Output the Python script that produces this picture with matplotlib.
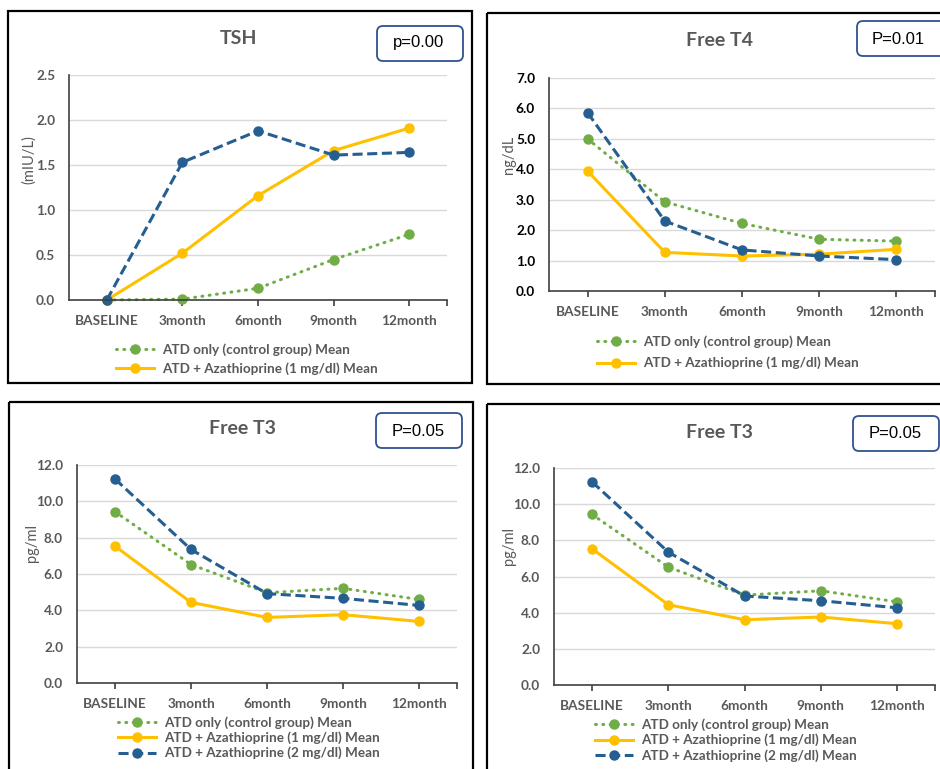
import numpy as np
import matplotlib
matplotlib.use('Agg')
import matplotlib.pyplot as plt
from matplotlib.patches import Rectangle, FancyBboxPatch

plt.rcParams['font.family'] = ['Lato', 'DejaVu Sans']

W, H = 940, 769

# data
months = ['BASELINE', '3month', '6month', '9month', '12month']
series_names = ['ATD only (control group) Mean',
                'ATD + Azathioprine (1 mg/dl) Mean',
                'ATD + Azathioprine (2 mg/dl) Mean']

tsh_control = [0.0, 0.01, 0.13, 0.45, 0.73]
tsh_aza1 = [0.0, 0.52, 1.16, 1.66, 1.91]
tsh_aza2 = [0.0, 1.53, 1.88, 1.61, 1.64]

ft4_control = [5.00, 2.93, 2.22, 1.70, 1.64]
ft4_aza1 = [3.94, 1.27, 1.15, 1.21, 1.37]
ft4_aza2 = [5.86, 2.30, 1.35, 1.15, 1.03]

ft3_control = [9.43, 6.52, 4.97, 5.21, 4.60]
ft3_aza1 = [7.53, 4.44, 3.61, 3.76, 3.39]
ft3_aza2 = [11.23, 7.35, 4.92, 4.66, 4.27]

p_labels = ['p=0.00', 'P=0.01', 'P=0.05', 'P=0.05']

GREEN = '#70AD47'
YELLOW = '#FFC000'
BLUE = '#255E91'
GRAY = '#595959'

TICK_FS = 9.8
LEG_FS = 9.7

fig = plt.figure(figsize=(W / 100, H / 100), dpi=100)

# overlay in pixel coords for frames, titles, p-value boxes
ov = fig.add_axes([0, 0, 1, 1])
ov.set_xlim(0, W)
ov.set_ylim(H, 0)
ov.axis('off')


def rect(x0, y0, x1, y1):
    return [x0 / W, 1 - y1 / H, (x1 - x0) / W, (y1 - y0) / H]


def styles():
    return [dict(color=GREEN, ls=(0, (0.3, 2.1)), dash_capstyle='round'),
            dict(color=YELLOW, ls='-'),
            dict(color=BLUE, ls=(0, (3.3, 1.5)))]


def panel(frame, plot, title, title_xy, pbox, p_text, p_xy, ylabel, ylabel_xy,
          ymax, ystep, data, n_leg, leg_xy, leg_gap, ytick_color=GRAY):
    fx0, fy0, fx1, fy1 = frame
    ov.add_patch(Rectangle((fx0, fy0), fx1 - fx0, fy1 - fy0, fill=False,
                           ec='black', lw=1.6, clip_on=False))
    bx0, by0, bx1, by1 = pbox
    ov.add_patch(FancyBboxPatch((bx0, by0), bx1 - bx0, by1 - by0,
                                boxstyle='round,pad=0,rounding_size=6',
                                fill=False, ec='#2F528F', lw=1.3, clip_on=False))
    ov.text(p_xy[0], p_xy[1], p_text, ha='center', va='center', fontsize=12,
            family='Liberation Sans', color='black')
    ov.text(title_xy[0], title_xy[1], title, ha='center', va='center',
            fontsize=14, fontweight='bold', color=GRAY)
    ov.text(ylabel_xy[0], ylabel_xy[1], ylabel, ha='center', va='center',
            rotation=90, fontsize=10.5, color=GRAY)

    ax = fig.add_axes(rect(*plot))
    x = np.arange(len(months))
    handles = []
    for vals, st in zip(data, styles()):
        ln, = ax.plot(x, vals, lw=2.2, marker='o', ms=6.5, mfc=st['color'],
                      mec=st['color'], clip_on=False, **st)
        handles.append(ln)
    ax.set_xlim(-0.5, 4.5)
    ax.set_ylim(0, ymax)
    ticks = np.arange(0, ymax + 1e-9, ystep)
    ax.set_yticks(ticks)
    ax.set_yticklabels(['%.1f' % v for v in ticks])
    ax.set_xticks(list(x) + [4.5])
    ax.set_xticklabels(months + [''])
    ax.tick_params(axis='x', length=4, width=1.2, color='#404040', pad=6.5,
                   labelsize=TICK_FS, labelcolor=GRAY)
    ax.tick_params(axis='y', length=0, pad=10, labelsize=TICK_FS,
                   labelcolor=ytick_color)
    for lab in ax.get_xticklabels() + ax.get_yticklabels():
        lab.set_fontweight('bold')
    for s in ['top', 'right']:
        ax.spines[s].set_visible(False)
    for s in ['left', 'bottom']:
        ax.spines[s].set_color('#404040')
        ax.spines[s].set_linewidth(1.2)
    ax.yaxis.grid(True, color='#d9d9d9', lw=1.0)
    ax.set_axisbelow(True)

    fs_px = LEG_FS * 100 / 72
    row_h = 0.97 * fs_px
    ax.legend(handles[:n_leg], series_names[:n_leg], loc='upper left',
              bbox_to_anchor=(leg_xy[0] / W, 1 - (leg_xy[1] - row_h / 2) / H),
              bbox_transform=fig.transFigure, frameon=False,
              borderpad=0, borderaxespad=0, handlelength=2.85,
              handletextpad=0.58, labelspacing=(leg_gap - row_h) / fs_px,
              prop=dict(size=LEG_FS, weight='bold'), labelcolor=GRAY)
    return ax


panel((8, 11, 472, 383), (69, 75, 447, 300), 'TSH', (239, 38),
      (377, 26, 463, 61), p_labels[0], (419, 43), '(mIU/L)', (29, 160),
      2.5, 0.5, [tsh_control, tsh_aza1, tsh_aza2], 2, (116, 350), 19)

panel((487, 13, 950, 384), (549, 78, 935, 291), 'Free T4', (720, 40),
      (857, 21, 950, 56), p_labels[1], (898, 39), 'ng/dL', (509, 155),
      7.0, 1.0, [ft4_control, ft4_aza1, ft4_aza2], 2, (597, 342), 21.6,
      ytick_color='black')

panel((9, 402, 473, 780), (77, 465, 457, 683), 'Free T3', (242, 429),
      (376, 413, 462, 448), p_labels[2], (418, 431), 'pg/ml', (32, 543),
      12.0, 2.0, [ft3_control, ft3_aza1, ft3_aza2], 3, (118, 723), 15.5)

panel((487, 404, 950, 780), (554, 468, 935, 685), 'Free T3', (719, 432),
      (853, 416, 939, 451), p_labels[3], (895, 433), 'pg/ml', (509, 546),
      12.0, 2.0, [ft3_control, ft3_aza1, ft3_aza2], 3, (595, 725), 15.7)

fig.savefig('out.png', dpi=100)
